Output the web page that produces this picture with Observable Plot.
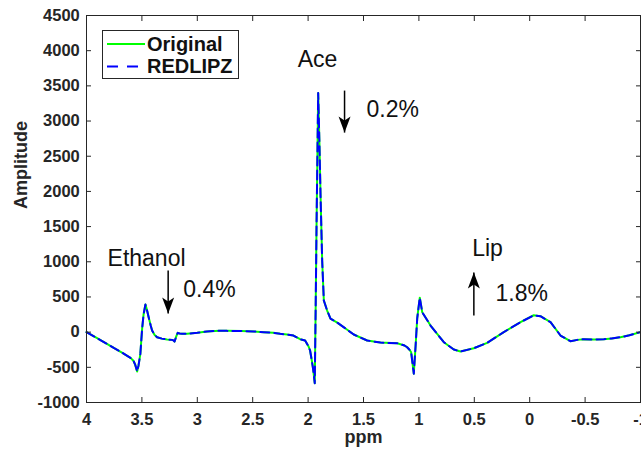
<!DOCTYPE html>
<html><head><meta charset="utf-8">
<script src="https://cdn.jsdelivr.net/npm/d3@7"></script>
<script src="https://cdn.jsdelivr.net/npm/@observablehq/plot@0.6"></script>
<style>body{margin:0;background:#fff} #chart{width:641px;height:450px;overflow:hidden}</style>
</head><body><div id="chart"></div>
<script>
// ---- data ----
const ppm = [4.00, 3.90, 3.80, 3.75, 3.68, 3.60, 3.575, 3.56, 3.543, 3.53, 3.514, 3.498, 3.485, 3.468, 3.455, 3.439, 3.42, 3.408, 3.385, 3.363, 3.32, 3.273, 3.228, 3.215, 3.205, 3.19, 3.177, 3.16, 3.138, 3.093, 3.00, 2.913, 2.80, 2.733, 2.60, 2.493, 2.40, 2.313, 2.252, 2.19, 2.132, 2.072, 2.027, 1.997, 1.982, 1.967, 1.955, 1.940, 1.932, 1.924, 1.909, 1.898, 1.888, 1.873, 1.858, 1.828, 1.798, 1.737, 1.662, 1.588, 1.467, 1.347, 1.196, 1.13, 1.106, 1.085, 1.070, 1.046, 1.030, 1.015, 0.992, 0.970, 0.895, 0.775, 0.685, 0.625, 0.505, 0.384, 0.234, 0.083, -0.037, -0.097, -0.188, -0.278, -0.368, -0.43, -0.488, -0.58, -0.669, -0.74, -0.819, -0.90, -1.00];
const original = [0, -90, -180, -228, -290, -370, -410, -465, -560, -470, -309, 47, 250, 392, 320, 212, 90, 23, -40, -72, -92, -105, -110, -118, -134, -60, -10, -20, -24, -24, -10, 9, 20, 18, 15, 9, 0, -10, -24, -35, -48, -100, -119, -200, -261, -400, -520, -726, 300, 1490, 3400, 2700, 1965, 1017, 449, 307, 193, 136, 51, -34, -119, -148, -158, -190, -215, -250, -286, -590, -200, 200, 490, 283, 94, -143, -247, -276, -229, -152, 0, 141, 240, 226, 141, -48, -129, -110, -100, -105, -100, -90, -72, -45, 0];
const redlipz = [0, -90, -180, -228, -290, -370, -410, -465, -560, -470, -309, 47, 250, 392, 320, 212, 90, 23, -40, -72, -92, -105, -110, -118, -134, -60, -10, -20, -24, -24, -10, 9, 20, 18, 15, 9, 0, -10, -24, -35, -48, -100, -119, -200, -261, -400, -520, -726, 300, 1490, 3400, 2700, 1965, 1017, 449, 307, 193, 136, 51, -34, -119, -148, -158, -190, -215, -250, -286, -590, -200, 200, 490, 283, 94, -143, -247, -276, -229, -152, 0, 141, 240, 226, 141, -48, -129, -110, -100, -105, -100, -90, -72, -45, 0];
const seriesNames = ["Original", "REDLIPZ"];

const xTicks = [4, 3.5, 3, 2.5, 2, 1.5, 1, 0.5, 0, -0.5, -1];
const yTicks = [-1000, -500, 0, 500, 1000, 1500, 2000, 2500, 3000, 3500, 4000, 4500];

const annoText = ["Ethanol", "0.4%", "Ace", "0.2%", "Lip", "1.8%"];
const annoPpm = [3.458, 3.127, 1.915, 1.473, 0.519, 0.309];
const annoAmp = [936, 506, 3764, 3064, 1079, 449];
const annoAlign = ["middle", "start", "middle", "start", "start", "start"];

const arrowPpm = [3.263, 1.671, 0.504];
const arrowTail = [875, 3433, 236];
const arrowTip = [264, 2836, 847];

// ---- build ----
const rows = ppm.map((p, i) => ({ppm: p, original: original[i], redlipz: redlipz[i]}));
const annos = annoText.map((t, i) => ({text: t, x: annoPpm[i], y: annoAmp[i], anchor: annoAlign[i]}));
const arrows = arrowPpm.map((p, i) => ({x: p, tail: arrowTail[i], tip: arrowTip[i]}));
const axisColor = "#262626";
const font = "'Liberation Sans', Arial, Helvetica, sans-serif";
const arrowHead = {draw(ctx) { ctx.moveTo(0, 0); ctx.lineTo(-6, 16); ctx.lineTo(0, 12); ctx.lineTo(6, 16); ctx.closePath(); }};
const annoOpts = {x: "x", y: "y", text: "text", lineAnchor: "bottom", fontSize: 23, fill: "#111"};

const chart = Plot.plot({
  width: 641, height: 450,
  marginLeft: 86, marginRight: 1, marginTop: 15, marginBottom: 48,
  style: {fontFamily: font, background: "white", color: axisColor},
  x: {domain: [4, -1]},
  y: {domain: [-1000, 4500]},
  marks: [
    Plot.line(rows, {x: "ppm", y: "original", stroke: "#00ff00", strokeWidth: 2}),
    Plot.line(rows, {x: "ppm", y: "redlipz", stroke: "#0000ff", strokeWidth: 2, strokeDasharray: "9,5"}),
    Plot.frame({stroke: axisColor, strokeWidth: 1}),
    Plot.axisX(xTicks, {anchor: "bottom", tickSize: -5, tickPadding: 15.5, fontSize: 16.5, fontWeight: "bold", label: null, tickFormat: d => String(d), stroke: axisColor, fill: axisColor}),
    Plot.axisX(xTicks, {anchor: "top", tickSize: -5, label: null, tickFormat: () => "", stroke: axisColor}),
    Plot.axisY(yTicks, {anchor: "left", tickSize: -5, tickPadding: 11.7, fontSize: 16.5, fontWeight: "bold", label: null, tickFormat: d => String(d), stroke: axisColor, fill: axisColor}),
    Plot.axisY(yTicks, {anchor: "right", tickSize: -5, label: null, tickFormat: () => "", stroke: axisColor}),
    Plot.text(["ppm"], {frameAnchor: "bottom", dy: 40, lineAnchor: "bottom", fontSize: 18, fontWeight: "bold", fill: axisColor}),
    Plot.text(["Amplitude"], {frameAnchor: "left", dx: -72, rotate: -90, lineAnchor: "top", fontSize: 18, fontWeight: "bold", fill: axisColor}),
    Plot.text(annos.filter(d => d.anchor === "middle"), {...annoOpts, textAnchor: "middle"}),
    Plot.text(annos.filter(d => d.anchor === "start"), {...annoOpts, textAnchor: "start"}),
    Plot.link(arrows, {x1: "x", x2: "x", y1: "tail", y2: "tip", stroke: "#000", strokeWidth: 1.5}),
    Plot.dot(arrows, {x: "x", y: "tip", symbol: arrowHead, fill: "#000", stroke: "none", rotate: d => d.tip < d.tail ? 180 : 0})
  ]
});

// legend box
const svg = d3.select(chart);
const lg = svg.append("g").attr("font-family", font).attr("text-anchor", "start");
lg.append("rect").attr("x", 102.5).attr("y", 30.5).attr("width", 136).attr("height", 48)
  .attr("fill", "white").attr("stroke", axisColor).attr("stroke-width", 1);
const legendStyles = [{stroke: "#00ff00", dash: null}, {stroke: "#0000ff", dash: "11,9"}];
seriesNames.forEach((name, i) => {
  const yy = 44 + i * 22.5;
  lg.append("line").attr("x1", 107).attr("x2", 145).attr("y1", yy).attr("y2", yy)
    .attr("stroke", legendStyles[i].stroke).attr("stroke-width", 2)
    .attr("stroke-dasharray", legendStyles[i].dash);
  lg.append("text").attr("x", 147).attr("y", yy + 6.5).attr("font-size", 20).attr("font-weight", "bold")
    .attr("text-anchor", "start").attr("fill", "#111").text(name);
});

document.getElementById("chart").appendChild(chart);
</script>
</body></html>
